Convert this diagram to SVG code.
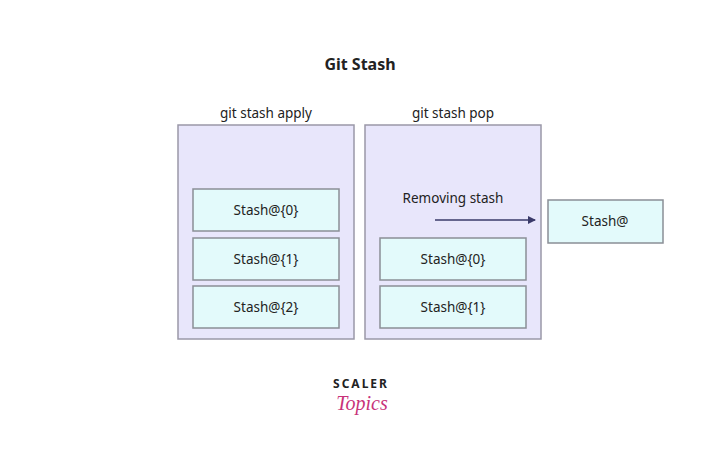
<svg xmlns="http://www.w3.org/2000/svg" width="720" height="465" viewBox="0 0 720 465">
<style>
text{font-family:"Noto Sans","Liberation Sans",sans-serif;fill:#222;text-anchor:middle}
.panel{fill:#e8e6fb;stroke:#9a98a8;stroke-width:1.5}
.box{fill:#e3fafb;stroke:#8a8f96;stroke-width:1.5}
.lbl{font-size:13.5px}
</style>
<defs><marker id="ah" markerWidth="8" markerHeight="8" refX="7" refY="4" orient="auto" markerUnits="userSpaceOnUse"><path d="M0,0L8,4L0,8z" fill="#3a3a6a"/></marker></defs>
<rect width="720" height="465" fill="#fff"/>
<text x="360" y="70" font-size="16" font-weight="bold">Git Stash</text>
<g id="apply">
<text x="266" y="118" class="lbl">git stash apply</text>
<rect class="panel" x="178" y="125" width="176" height="214"/>
</g>
<g id="pop">
<text x="453" y="118" class="lbl">git stash pop</text>
<rect class="panel" x="365" y="125" width="176" height="214"/>
<text x="453" y="203" class="lbl">Removing stash</text>
</g>
<g id="a0"><rect class="box" x="193" y="189" width="146" height="42"/><text x="266" y="215" class="lbl">Stash@{0}</text></g>
<g id="a1"><rect class="box" x="193" y="238" width="146" height="42"/><text x="266" y="264" class="lbl">Stash@{1}</text></g>
<g id="a2"><rect class="box" x="193" y="286" width="146" height="42"/><text x="266" y="312" class="lbl">Stash@{2}</text></g>
<g id="p0"><rect class="box" x="380" y="238" width="146" height="42"/><text x="453" y="264" class="lbl">Stash@{0}</text></g>
<g id="p1"><rect class="box" x="380" y="286" width="146" height="42"/><text x="453" y="312" class="lbl">Stash@{1}</text></g>
<g id="out"><rect class="box" x="548" y="200" width="115" height="43"/><text x="605" y="226" class="lbl">Stash@</text></g>
<g id="connectors"><line x1="435" y1="220" x2="535" y2="220" stroke="#3a3a6a" stroke-width="1.5" marker-end="url(#ah)"/></g>
<g id="logo">
<text x="361" y="388" font-size="12" font-weight="bold" letter-spacing="2" fill="#111">SCALER</text>
<text x="362" y="410" font-size="20" font-style="italic" style="fill:#c8327a;font-family:'Liberation Serif',serif">Topics</text>
</g>
</svg>
